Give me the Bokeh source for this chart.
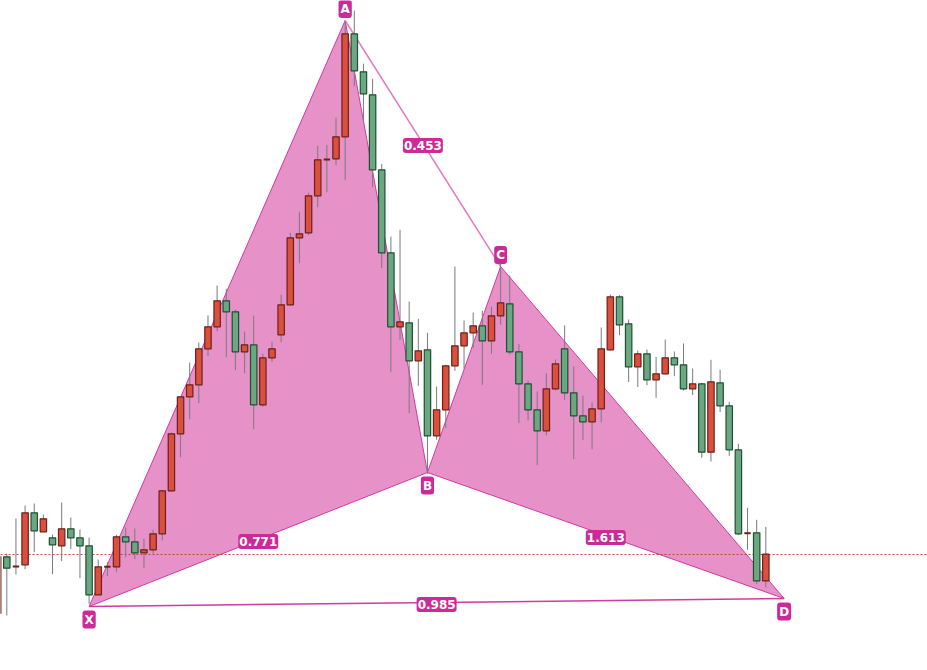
from bokeh.plotting import figure
from bokeh.models import ColumnDataSource, Range1d
from bokeh.embed import file_html
from bokeh.resources import INLINE
from bokeh.core.properties import value

# ---------------- data (price points) ----------------
bar_index = list(range(-1, 84))
opens = [47, 103.7, 94, 95.7, 147.7, 128.7, 122.7, 114.7, 131.7, 122.7,
         114.7, 65.7, 93.7, 93.7, 123.7, 118.7, 107.7, 110.7, 126.7, 169.7,
         226.7, 263.7, 275.7, 311.7, 333.7, 359.7, 348.7, 308.7, 315.7, 255.7,
         302.7, 325.7, 355.7, 422.7, 427.7, 464.7, 501, 501.7, 523.7, 626.7,
         588.7, 565.7, 490.7, 407.7, 333.7, 337.7, 299.7, 310.7, 224.7, 250.7,
         294.7, 314.7, 327.7, 334.7, 319.7, 344.7, 356.7, 308.7, 276.7, 250.7,
         229.7, 271.7, 311.7, 267.7, 244.7, 238.7, 251.7, 310.7, 363.7, 336.7,
         293.7, 306.7, 280.7, 286.7, 302.7, 295.7, 271.7, 276.7, 208.3, 277.7,
         254.7, 210.7, 127.3, 127.7, 79.7]
highs = [107, 107, 142, 155, 157, 146, 126, 158, 143, 131,
         123, 101, 98.3, 125.7, 133, 132, 121.7, 130.7, 170.5, 228,
         264.5, 298, 318, 345, 375, 371.7, 350.7, 329, 345, 306.7,
         318.7, 365.7, 427.7, 448.7, 467.7, 514.7, 515.7, 542.7, 639.3, 650,
         596.7, 581.7, 496.7, 424, 430.7, 359, 341.7, 327.7, 274, 295.7,
         394, 340, 348, 349.7, 353.7, 400.7, 385, 316.7, 280, 269,
         287.3, 301, 335, 294, 265, 258, 333, 366, 365.3, 341,
         310, 311, 303.7, 321, 309, 317, 292, 277.7, 300.7, 290.7,
         258.7, 216.7, 152.7, 140.7, 133.7]
lows = [44, 45, 86, 91.3, 108.3, 128.7, 86.3, 99.3, 111.3, 82.3,
        56.7, 65.7, 84.3, 88.3, 103.3, 101.3, 92.3, 107, 120, 169,
        203.3, 241.3, 257.3, 304.3, 329.3, 303.3, 290.3, 287.3, 231.3, 253.7,
        298.7, 318.3, 355, 397.3, 425.3, 453.3, 468.3, 495.3, 480.3, 574.3,
        540.7, 473.3, 392.5, 288.3, 320.7, 247.3, 274.7, 186.7, 220.7, 232.7,
        289.7, 291.7, 312.7, 275.7, 306.7, 335.7, 306, 237.3, 240, 195.3,
        225.3, 270, 260.7, 201.3, 220.3, 211.3, 238.3, 310, 325.3, 278.5,
        273.5, 275.3, 262.7, 286, 284.3, 270, 265.5, 202.7, 199, 248.5,
        204.7, 125.7, 110.7, 76.7, 73.3]
closes = [104, 92.3, 94, 147.7, 129.7, 141.7, 115.7, 131.7, 122.7, 114.7,
          65.7, 93.7, 93.7, 123.7, 118.7, 107.7, 110.7, 126.7, 169.7, 226.7,
          263.7, 275.7, 311.7, 333.7, 359.7, 348.7, 308.7, 315.7, 255.7, 302.7,
          311.7, 355.7, 422.7, 426.7, 464.7, 500.7, 501, 523.7, 626.7, 589.7,
          566.7, 490.7, 407.7, 333.7, 338.7, 299.7, 309.7, 224.7, 250.7, 294.7,
          314.7, 327.7, 334.7, 319.7, 344.7, 357.7, 308.7, 276.7, 250.7, 229.7,
          271.7, 296.7, 267.7, 244.7, 238.7, 251.7, 311.7, 363.7, 335.7, 293.7,
          306.7, 280.7, 286.7, 302.7, 295.7, 271.7, 276.7, 208.3, 278.7, 254.7,
          210.7, 126.7, 127.3, 79.7, 106.3]

# harmonic pattern pivots
point_names = ["X", "A", "B", "C", "D"]
point_index = [9, 37, 46, 54, 85]
point_price = [54, 640, 188, 394, 62]

# ratio labels and the legs they sit on
ratio_values = [0.771, 0.453, 1.613, 0.985]
ratio_from = ["X", "A", "B", "X"]
ratio_to = ["B", "C", "D", "D"]

# ---------------- styles ----------------
UP_FILL, UP_LINE = "#d9503f", "#6e1f18"
DN_FILL, DN_LINE = "#6aa882", "#1f4f33"
WICK = "#7a7a7a"
PAT_FILL, PAT_LINE, AC_LINE = "#e692c8", "#d13a9f", "#e27cc2"
LABEL_BG = "#c92c98"
BODY_W = 0.7

p = figure(width=927, height=670, output_backend="svg", toolbar_location=None,
           x_range=Range1d(-0.689, 100.68), y_range=Range1d(-10, 660),
           x_axis_type=None, y_axis_type=None, min_border=0,
           background_fill_color="white", border_fill_color="white")
p.grid.visible = False
p.outline_line_color = None

pt = {n: (i, v) for n, i, v in zip(point_names, point_index, point_price)}

# filled triangles XAB and BCD
tri = [["X", "A", "B"], ["B", "C", "D"]]
p.patches(xs=[[pt[n][0] for n in t] for t in tri],
          ys=[[pt[n][1] for n in t] for t in tri],
          fill_color=PAT_FILL, line_color=PAT_LINE, line_width=1)
# A-C leg
p.line([pt["A"][0], pt["C"][0]], [pt["A"][1], pt["C"][1]], line_color=AC_LINE, line_width=1.5)
# X-D leg
p.line([pt["X"][0], pt["D"][0]], [pt["X"][1], pt["D"][1]], line_color=PAT_LINE, line_width=1.5)

# last price line
p.hspan(y=[closes[-1]], line_color="#c0392b", line_width=1, line_dash="2 2", line_alpha=0.9)

# candles
src = ColumnDataSource(dict(
    x=bar_index, high=highs, low=lows,
    top=[max(o, c) for o, c in zip(opens, closes)],
    bottom=[min(o, c) for o, c in zip(opens, closes)],
    fill=[UP_FILL if c >= o else DN_FILL for o, c in zip(opens, closes)],
    line=[UP_LINE if c >= o else DN_LINE for o, c in zip(opens, closes)],
))
p.segment(x0="x", y0="low", x1="x", y1="high", source=src, line_color=WICK, line_width=1)
body_idx = [k for k, (o, c) in enumerate(zip(opens, closes)) if o != c]
bsrc = ColumnDataSource({k: [v[j] for j in body_idx] for k, v in src.data.items()})
p.vbar(x="x", width=BODY_W, top="top", bottom="bottom", source=bsrc,
       fill_color="fill", line_color="line", line_width=1.2)
doji = [k for k, (o, c) in enumerate(zip(opens, closes)) if o == c]
p.segment(x0=[bar_index[k] - BODY_W / 2 for k in doji], x1=[bar_index[k] + BODY_W / 2 for k in doji],
          y0=[closes[k] for k in doji], y1=[closes[k] for k in doji],
          line_color=UP_LINE, line_width=2)

# ratio labels at leg midpoints
rx = [(pt[a][0] + pt[b][0]) / 2 for a, b in zip(ratio_from, ratio_to)]
ry = [(pt[a][1] + pt[b][1]) / 2 - 2 for a, b in zip(ratio_from, ratio_to)]
label_style = dict(text_color="white", text_font=value("DejaVu Sans"), text_font_style="bold",
                   text_align="center", text_baseline="middle",
                   background_fill_color=LABEL_BG, border_radius=3)
p.text(x=rx, y=ry, text=[f"{r:.3f}" for r in ratio_values], padding=(1, 3),
       text_font_size="12px", **label_style)

# pivot letters: above highs, below lows
lx, ly = [], []
for k, (i, v) in enumerate(zip(point_index, point_price)):
    nb = [point_price[j] for j in (k - 1, k + 1) if 0 <= j < len(point_price)]
    above = all(v > n for n in nb)
    lx.append(i)
    ly.append(v + 11.5 if above else v - 13)
p.text(x=lx, y=ly, text=point_names, padding=(2, 2), text_font_size="12px", **label_style)

open("out.html", "w").write(file_html(p, INLINE))
